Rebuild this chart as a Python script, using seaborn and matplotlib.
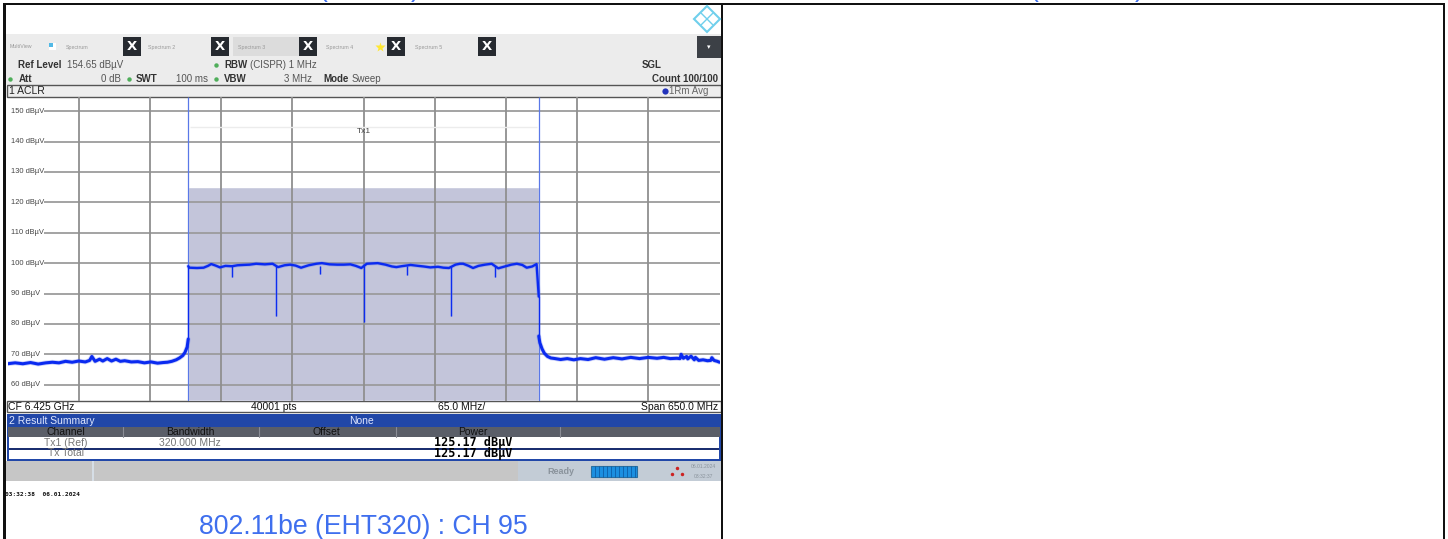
import matplotlib
matplotlib.use('Agg')
import matplotlib.pyplot as plt
from matplotlib.patches import Rectangle
import seaborn as sns

sns.set_theme(style="white")
plt.rcParams['font.family'] = ['Liberation Sans', 'DejaVu Sans']

# spectrum trace (MHz from centre, dBuV)
left_freq = [-325, -318, -311, -304, -297, -290, -284, -278, -272, -266, -260, -254, -250, -248, -245, -241, -238,
             -234, -230, -226, -222, -218, -212, -206, -200, -194, -188, -183, -179, -175, -171, -168, -165, -163, -161, -160]
left_level = [66.9, 67.2, 66.9, 67.3, 66.8, 67.2, 67.4, 67.2, 67.7, 67.4, 67.8, 67.5, 68.0, 69.3, 67.7, 68.4, 67.8,
              68.6, 67.8, 68.4, 67.7, 67.9, 67.5, 67.6, 67.2, 67.5, 67.1, 67.3, 67.4, 67.7, 68.2, 68.8, 69.6, 70.6, 72.4, 75.0]

pass_freq = [-160, -159, -152, -146, -142, -139, -135, -131, -126, -121, -119.8, -115, -110, -104, -98, -90,
             -83, -78, -72, -67, -62, -57, -50, -43, -38, -31, -24, -18, -12, -7, -2,
             3, 8, 13, 20, 26, 30, 35, 43, 50, 55, 61, 68, 73, 78, 84, 88,
             91, 96, 100, 105, 111, 117, 123, 130, 135, 140, 145, 149, 154, 158, 160]
pass_level = [99.0, 98.5, 98.4, 98.5, 99.1, 99.7, 99.2, 98.6, 99.1, 99.0, 99.0, 99.3, 99.4, 99.5, 99.8, 99.6,
              99.8, 98.7, 99.3, 99.5, 99.2, 98.5, 99.3, 99.8, 100.0, 99.6, 99.5, 99.5, 99.6, 99.1, 98.4,
              99.8, 99.9, 100.0, 99.5, 98.9, 98.7, 99.0, 99.4, 99.1, 98.9, 98.6, 98.8, 98.5, 98.4, 99.5, 99.8,
              99.8, 99.1, 98.4, 99.1, 99.5, 99.8, 98.3, 99.0, 99.5, 99.8, 99.4, 98.5, 98.9, 99.7, 89.0]

notch_freq = [-120, -80, -40, 0, 40, 80, 120]
notch_floor = [95.6, 82.5, 96.5, 80.8, 96.0, 82.6, 95.6]

right_freq = [160, 161, 163, 165, 168, 171, 175, 180, 186, 192, 198, 205, 212, 220, 228, 236, 244, 252, 260, 268,
              274, 280, 286, 289, 290, 292, 295, 296, 299, 302, 303, 306, 310, 314, 317, 318, 320, 323, 325]
right_level = [76.0, 73.8, 71.8, 70.4, 69.3, 68.8, 68.6, 68.3, 68.6, 68.2, 68.6, 68.3, 68.9, 68.4, 68.9, 68.5, 69.0, 68.6, 69.0, 68.7,
               69.0, 68.6, 68.7, 68.6, 70.0, 68.7, 69.3, 68.5, 69.4, 68.2, 69.0, 68.0, 68.2, 67.9, 68.0, 68.9, 68.0, 67.7, 67.4]

channel_edges = [-160, 160]
channel_power = 125.17
level_ticks = [150, 140, 130, 120, 110, 100, 90, 80, 70, 60]
freq_ticks = [-260, -195, -130, -65, 0, 65, 130, 195, 260]

tab_labels = ['Spectrum', 'Spectrum 2', 'Spectrum 3', 'Spectrum 4', 'Spectrum 5']
tab_text_x = [66, 148, 238, 326, 415]
tab_close_x = [123, 211, 299, 387, 478]
table_headers = ['Channel', 'Bandwidth', 'Offset', 'Power']
table_header_x = [66, 190, 326, 473]
table_lines_x = [123, 259, 396, 560]

W, H = 1448, 539
fig = plt.figure(figsize=(W / 100, H / 100), dpi=100, facecolor='white')

# page axes in pixels, for all the instrument chrome
page = fig.add_axes([0, 0, 1, 1])
page.set_xlim(0, W)
page.set_ylim(H, 0)
page.axis('off')


def box(x0, y0, x1, y1, color, **kw):
    page.add_patch(Rectangle((x0, y0), x1 - x0, y1 - y0, facecolor=color, edgecolor=kw.pop('ec', 'none'), **kw))


def label(x, y, s, size=7, color='#333333', ha='left', **kw):
    page.text(x, y, s, fontsize=size, color=color, ha=ha, va='center', **kw)


# header band
box(5, 34, 721, 85, '#ececec')
box(233, 37, 299, 56, '#dcdcdc')
label(10, 47, 'MultiView', size=3.8, color='#999999')
box(49, 43, 56, 50, '#ffffff')
box(49, 43, 53, 47, '#52b9e6')
for t, tx, cx in zip(tab_labels, tab_text_x, tab_close_x):
    label(tx, 47, t, size=3.8, color='#999999')
    box(cx, 37, cx + 18, 56, '#262a30')
    label(cx + 9, 46.5, 'X', size=9.5, color='white', ha='center', fontweight='bold', family='DejaVu Sans')
page.plot(380, 47, marker='*', ms=7, color='#ffe733', mec='none')
box(697, 36, 721, 58, '#3c4046')
label(709, 47, '▾', size=5, color='white', ha='center', family='DejaVu Sans')

# logo
page.plot(707, 19, marker='D', ms=13, mfc='none', mec='#6fcfec', mew=1.5)
page.plot([701.5, 712.5], [13.5, 24.5], color='#6fcfec', lw=1)
page.plot([701.5, 712.5], [24.5, 13.5], color='#6fcfec', lw=1)

# settings
label(18, 65, 'Ref Level', size=7, fontweight='bold')
label(67, 65, '154.65 dBµV', size=7, color='#555555')
label(224, 65, 'RBW', size=7, fontweight='bold')
label(250, 65, '(CISPR) 1 MHz', size=7, color='#555555')
label(642, 65, 'SGL', size=7, fontweight='bold')
label(19, 79, 'Att', size=7, fontweight='bold')
label(121, 79, '0 dB', size=7, color='#555555', ha='right')
label(136, 79, 'SWT', size=7, fontweight='bold')
label(208, 79, '100 ms', size=7, color='#555555', ha='right')
label(224, 79, 'VBW', size=7, fontweight='bold')
label(312, 79, '3 MHz', size=7, color='#555555', ha='right')
label(323, 79, 'Mode', size=7, fontweight='bold')
label(352, 79, 'Sweep', size=7, color='#555555')
label(718, 79, 'Count 100/100', size=7, ha='right', fontweight='bold')
for dx, dy in [(216, 65), (10, 79), (129, 79), (216, 79)]:
    page.plot(dx, dy, marker='o', ms=3.2, color='#4fae5a', mec='none')

# window title bars
box(7, 85, 721, 97, '#eeeeee', ec='#555555', lw=1)
label(9, 91, '1 ACLR', size=7.5, color='#222222')
page.plot(665, 91, marker='o', ms=4.5, color='#2233bb', mec='none')
label(669, 91, '1Rm Avg', size=7, color='#666666')

box(7, 401, 721, 412, 'white', ec='#555555', lw=1)
label(8, 407, 'CF 6.425 GHz', size=7.5, color='#111111')
label(274, 407, '40001 pts', size=7.5, color='#111111', ha='center')
label(462, 407, '65.0 MHz/', size=7.5, color='#111111', ha='center')
label(718, 407, 'Span 650.0 MHz', size=7.5, color='#111111', ha='right')

# result summary
box(7, 414, 721, 461, '#2147a8')
label(9, 420.5, '2 Result Summary', size=7.5, color='#dfe6ff')
label(362, 420.5, 'None', size=7.5, color='#dfe6ff', ha='center')
box(8, 427, 720, 437, '#5a5e68')
box(9, 437, 719, 459, 'white')
box(9, 448, 719, 449.5, '#1b2f70')
for lx in table_lines_x:
    page.plot([lx, lx], [427, 437], color='#8a8d96', lw=0.8)
for t, tx in zip(table_headers, table_header_x):
    label(tx, 432, t, size=7.5, color='#111111', ha='center')
label(66, 443, 'Tx1 (Ref)', size=7.5, color='#777777', ha='center')
label(190, 443, '320.000 MHz', size=7.5, color='#777777', ha='center')
label(66, 453.5, 'Tx Total', size=7.5, color='#777777', ha='center')
for ty in [442.5, 453]:
    label(473, ty, f'{channel_power} dBµV', size=8.5, color='black', ha='center',
          fontweight='bold', family='DejaVu Sans Mono')

# status bar
box(5, 461, 721, 481, '#c6c6c6')
box(518, 461, 721, 481, '#c3ccd6')
box(92, 461, 94, 481, '#d6dee6')
label(561, 471, 'Ready', size=6.5, color='#8a939c', ha='center', fontweight='bold')
box(591, 466, 637, 477, '#1c8fe0', ec='#2a6f9f', lw=0.8)
for bx in range(595, 637, 4):
    page.plot([bx, bx], [466, 477], color='#0d5fa8', lw=0.6)
page.plot([677, 672, 682], [468, 474, 474], ls='none', marker='o', ms=2.5, color='#cc2222', mec='none')
label(703, 467, '06.01.2024', size=3.6, color='#8a939c', ha='center')
label(703, 476, '03:32:37', size=3.6, color='#8a939c', ha='center')

label(5, 495, '03:32:38  06.01.2024', size=4.4, color='#111111', fontweight='bold', family='DejaVu Sans Mono')

# caption, and the bottoms of the cropped row above
label(363, 527, '802.11be (EHT320) : CH 95', size=19.2, color='#3f6fee', ha='center')
for px in [323, 415, 1034, 1139]:
    page.text(px, -11, '(' if px in (323, 1034) else ')', fontsize=19.2, color='#3f6fee', ha='center', va='center', clip_on=True)

# table rules
rule = '#111111'
box(3, 3, 1445, 5, rule)
box(3, 3, 5.5, H, rule)
box(720.5, 3, 723, H, rule)
box(1442.5, 3, 1445, H, rule)

# trace axes: 7.5..719.5 px, 97..401 px
ax = fig.add_axes([7.5 / W, 1 - 401 / H, 712 / W, 304 / H])
ax.patch.set_alpha(0)
ax.set_xlim(-325, 325)
ax.set_ylim(54.65, 154.65)
ax.bar(0, channel_power - 54.65, width=320, bottom=54.65, color='#c3c5da', zorder=1)
ax.hlines(level_ticks, -292, 325, color='#9c9c9c', lw=1.3, zorder=2)
ax.vlines(freq_ticks, 54.65, 154.65, color='#8f8f8f', lw=1.3, zorder=2)
ax.vlines(channel_edges, 54.65, 154.65, color='#5a78e8', lw=0.9, zorder=3)
ax.hlines(144.7, -158, 158, color='#ececec', lw=1, zorder=2)
ax.text(0, 143.4, 'Tx1', fontsize=6, color='#444444', ha='center', va='center')
for lv in level_ticks:
    ax.text(-322, lv, f'{lv} dBµV', fontsize=5.4, color='#444444', va='center')

for xs, ys, lw in [(left_freq, left_level, 2.2), (pass_freq, pass_level, 1.7), (right_freq, right_level, 2.2)]:
    sns.lineplot(x=xs, y=ys, ax=ax, color='#5a70f0', lw=lw + 1.2, alpha=0.3, estimator=None, sort=False, zorder=4)
    sns.lineplot(x=xs, y=ys, ax=ax, color='#0a2af0', lw=lw, estimator=None, sort=False, zorder=5, solid_joinstyle='round')
ax.vlines(notch_freq, notch_floor, 99.0, color='#5a70f0', lw=1.8, alpha=0.55, zorder=4)
ax.vlines(notch_freq, notch_floor, 99.0, color='#0a2af0', lw=0.7, zorder=5)
ax.plot([-160, -160], [75.0, 99.0], color='#0a2af0', lw=1, zorder=4)
ax.plot([160, 160], [89.0, 76.0], color='#0a2af0', lw=1, zorder=4)
ax.set_xticks([])
ax.set_yticks([])
ax.set_xlabel('')
ax.set_ylabel('')
for s in ax.spines.values():
    s.set_visible(False)

fig.savefig('out.png', dpi=100)
